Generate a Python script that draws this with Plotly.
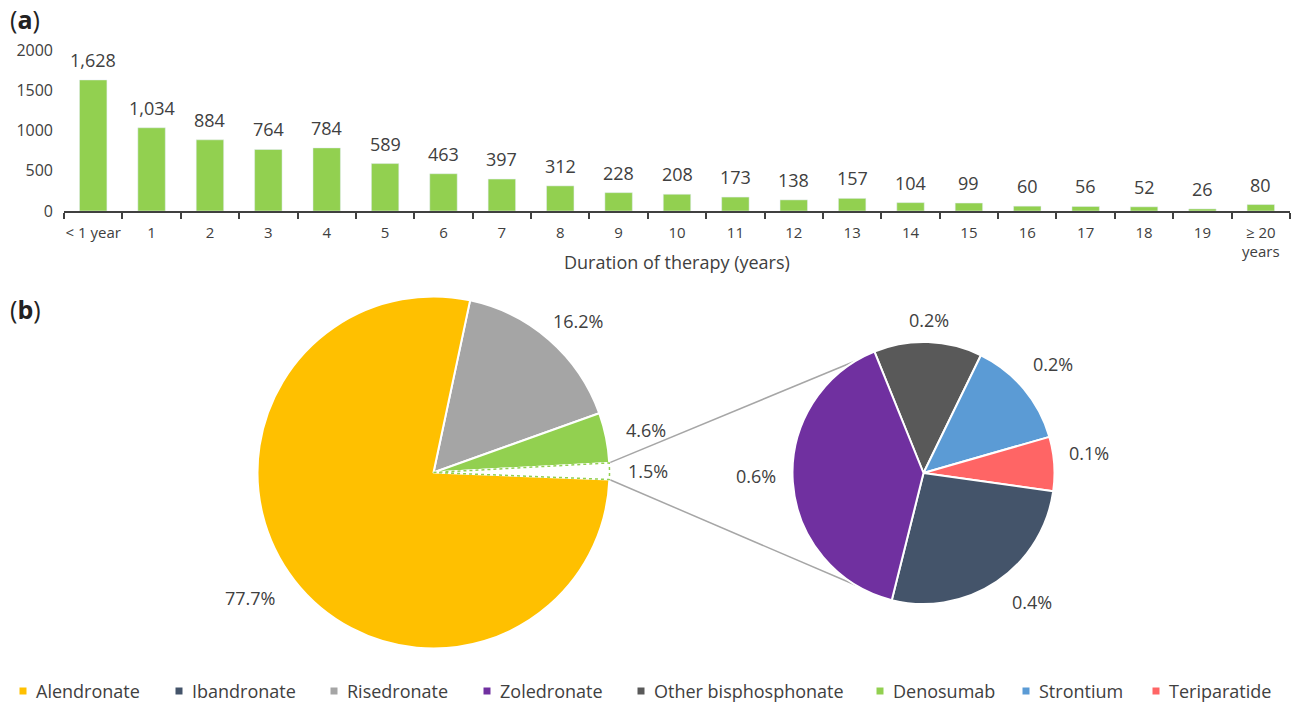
import math
import plotly.graph_objects as go

# ---- data -------------------------------------------------------------
# (a) number of patients by duration of therapy
durations = ["< 1 year", "1", "2", "3", "4", "5", "6", "7", "8", "9", "10",
             "11", "12", "13", "14", "15", "16", "17", "18", "19", "≥ 20<br>years"]
patients = [1628, 1034, 884, 764, 784, 589, 463, 397, 312, 228, 208,
            173, 138, 157, 104, 99, 60, 56, 52, 26, 80]
y_ticks = [0, 500, 1000, 1500, 2000]

# (b) share of treatment by drug (%), main pie and the split-out pie
main_labels = ["Risedronate", "Denosumab", "Other", "Alendronate"]
main_shares = [16.2, 4.6, 1.5, 77.7]
detail_labels = ["Other bisphosphonate", "Strontium", "Teriparatide",
                 "Ibandronate", "Zoledronate"]
detail_shares = [0.2, 0.2, 0.1, 0.4, 0.6]

legend_order = ["Alendronate", "Ibandronate", "Risedronate", "Zoledronate",
                "Other bisphosphonate", "Denosumab", "Strontium", "Teriparatide"]

# ---- style ------------------------------------------------------------
W, H = 1295, 703
FONT = "Open Sans"
TXT = "#404040"
colors = {
    "Alendronate": "#FFC000",
    "Ibandronate": "#44546A",
    "Risedronate": "#A5A5A5",
    "Zoledronate": "#7030A0",
    "Other bisphosphonate": "#595959",
    "Denosumab": "#92D050",
    "Strontium": "#5B9BD5",
    "Teriparatide": "#FF6565",
    "Other": "#FFFFFF",
}
BAR_COLOR = "#92D050"

# layout geometry in pixels
BAR_X0, BAR_X1, BAR_Y0, BAR_Y1 = 64, 1290, 211, 50
MAIN_C, MAIN_R, MAIN_ROT = (433.5, 472.5), 176, 12
DET_C, DET_R, DET_ROT = (923.5, 473), 131, -22
CONNECT_ANGLE = 31          # where the connector lines meet the small pie
# label placement: radial distance (x radius) and angular nudge (deg)
main_label_dist = [1.19, 1.23, 1.22, 1.26]
main_label_turn = [2.5, 0, 0, 3.5]
detail_label_dist = [1.17, 1.29, 1.27, 1.29, 1.28]
detail_label_turn = [0, 0, -3, -6, 3]
LEGEND_Y = 691
legend_x = [23, 179, 334, 487, 641, 880, 1026, 1156]   # swatch centres
SWATCH = 7


def px(x, y):
    """pixel position -> paper coordinates"""
    return x / W, 1 - y / H


def polar(center, r, deg):
    """point at angle deg (clockwise from 12 o'clock), pixel space"""
    a = math.radians(deg)
    return center[0] + r * math.sin(a), center[1] - r * math.cos(a)


def slice_angles(shares, rotation):
    total = sum(shares)
    out, start = [], rotation
    for s in shares:
        span = 360 * s / total
        out.append((start, start + span))
        start += span
    return out


def pie_domain(center, r):
    x0, y0 = px(center[0] - r, center[1] + r)
    x1, y1 = px(center[0] + r, center[1] - r)
    return dict(x=[x0, x1], y=[y0, y1])


fig = go.Figure()

# ---- (a) bar chart ----------------------------------------------------
fig.add_trace(go.Bar(
    x=durations, y=patients, marker_color=BAR_COLOR, showlegend=False,
    hovertemplate="%{x}: %{y:,}<extra></extra>",
))
for d, v in zip(durations, patients):
    fig.add_annotation(
        x=d, y=v, xref="x", yref="y", text=f"{v:,}", showarrow=False,
        yanchor="bottom", yshift=6, font=dict(family=FONT, size=18, color=TXT),
    )

# ---- (b) pie of pie ---------------------------------------------------
fig.add_trace(go.Pie(
    labels=main_labels, values=main_shares, sort=False, direction="clockwise",
    rotation=MAIN_ROT, textinfo="none", showlegend=False,
    marker=dict(colors=[colors[l] for l in main_labels],
                line=dict(color="white", width=2)),
    domain=pie_domain(MAIN_C, MAIN_R),
    hovertemplate="%{label}: %{value}%<extra></extra>",
))
fig.add_trace(go.Pie(
    labels=detail_labels, values=detail_shares, sort=False, direction="clockwise",
    rotation=DET_ROT, textinfo="none", showlegend=False,
    marker=dict(colors=[colors[l] for l in detail_labels],
                line=dict(color="white", width=2)),
    domain=pie_domain(DET_C, DET_R),
    hovertemplate="%{label}: %{value}%<extra></extra>",
))

# percentage labels around both pies
for shares, angles, center, r, dist, turn in [
    (main_shares, slice_angles(main_shares, MAIN_ROT), MAIN_C, MAIN_R,
     main_label_dist, main_label_turn),
    (detail_shares, slice_angles(detail_shares, DET_ROT), DET_C, DET_R,
     detail_label_dist, detail_label_turn),
]:
    for s, (a0, a1), k, t in zip(shares, angles, dist, turn):
        lx, ly = px(*polar(center, r * k, (a0 + a1) / 2 + t))
        fig.add_annotation(
            x=lx, y=ly, xref="paper", yref="paper", text=f"{s:.1f}%",
            showarrow=False, xanchor="center", yanchor="middle",
            font=dict(family=FONT, size=18, color=TXT),
        )

# dotted outline of the split-out slice and the connector lines
o0, o1 = slice_angles(main_shares, MAIN_ROT)[main_labels.index("Other")]
pts = [MAIN_C] + [polar(MAIN_C, MAIN_R, o0 + (o1 - o0) * i / 6) for i in range(7)]
path = "M " + " L ".join("{:.5f},{:.5f}".format(*px(*p)) for p in pts) + " Z"
fig.add_shape(type="path", path=path, xref="paper", yref="paper",
              line=dict(color=BAR_COLOR, width=1.5, dash="dot"))

for a_main, a_det in [(o0, -CONNECT_ANGLE), (o1, 180 + CONNECT_ANGLE)]:
    x0, y0 = px(*polar(MAIN_C, MAIN_R, a_main))
    x1, y1 = px(*polar(DET_C, DET_R, a_det))
    fig.add_shape(type="line", x0=x0, y0=y0, x1=x1, y1=y1,
                  xref="paper", yref="paper", layer="below",
                  line=dict(color="#A6A6A6", width=1.5))

# legend row: coloured swatch followed by the drug name
for name, cx in zip(legend_order, legend_x):
    x0, y0 = px(cx - SWATCH / 2, LEGEND_Y + SWATCH / 2)
    x1, y1 = px(cx + SWATCH / 2, LEGEND_Y - SWATCH / 2)
    fig.add_shape(type="rect", x0=x0, y0=y0, x1=x1, y1=y1,
                  xref="paper", yref="paper", line_width=0,
                  fillcolor=colors[name])
    tx, ty = px(cx + 11, LEGEND_Y)
    fig.add_annotation(x=tx, y=ty, xref="paper", yref="paper", text=name,
                       showarrow=False, xanchor="left", yanchor="middle",
                       font=dict(family=FONT, size=18, color=TXT))

# panel tags and axis title
for tag, ypix in [("a", 19), ("b", 309)]:
    tx, ty = px(8, ypix)
    fig.add_annotation(x=tx, y=ty, xref="paper", yref="paper",
                       text=f"(<b>{tag}</b>)", showarrow=False,
                       xanchor="left", yanchor="middle",
                       font=dict(family=FONT, size=25, color="#222222"))

tx, ty = px((BAR_X0 + BAR_X1) / 2, 262)
fig.add_annotation(x=tx, y=ty, xref="paper", yref="paper",
                   text="Duration of therapy (years)", showarrow=False,
                   xanchor="center", yanchor="middle",
                   font=dict(family=FONT, size=18, color=TXT))

fig.update_layout(
    width=W, height=H, margin=dict(l=0, r=0, t=0, b=0),
    paper_bgcolor="white", plot_bgcolor="white",
    font=dict(family=FONT, color=TXT),
    bargap=0.53, showlegend=False,
    xaxis=dict(
        domain=[BAR_X0 / W, BAR_X1 / W], type="category", automargin=False,
        categoryorder="array", categoryarray=durations, tickangle=0,
        showline=True, linecolor="#404040", linewidth=1.5,
        ticks="outside", tickson="boundaries", ticklen=6, tickwidth=1.5,
        tickcolor="#404040", showgrid=False, zeroline=False,
        ticklabelstandoff=7,
        tickfont=dict(family=FONT, size=15, color=TXT),
    ),
    yaxis=dict(
        domain=[1 - BAR_Y0 / H, 1 - BAR_Y1 / H], range=[0, 2000],
        automargin=False, tickvals=y_ticks, showgrid=False, zeroline=False,
        showline=False, ticks="", ticklabelstandoff=10,
        tickfont=dict(family=FONT, size=16, color=TXT),
    ),
)

fig.write_html("out.html")
